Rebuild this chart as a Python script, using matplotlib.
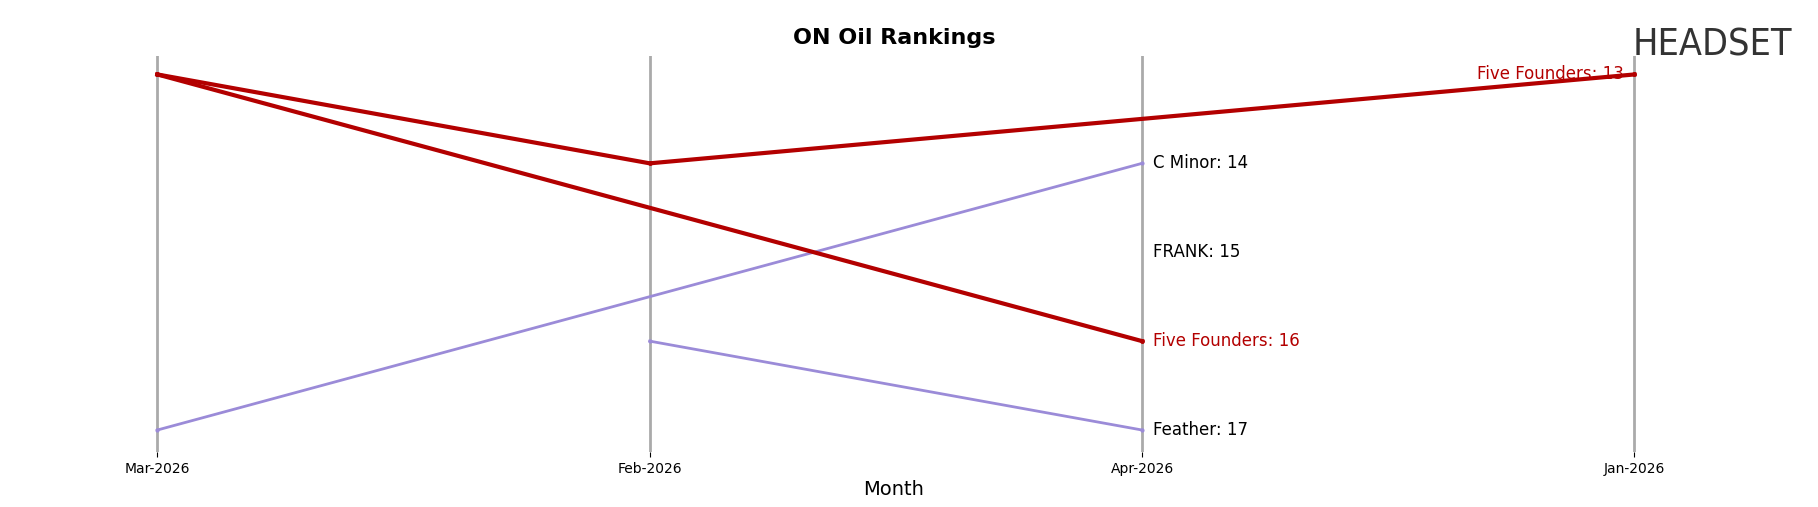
import matplotlib.pyplot as plt

months = ['Mar-2026', 'Feb-2026', 'Apr-2026', 'Jan-2026']

# brand lines: (month indices, ranks)
ff_a_x, ff_a_y = [0, 1, 3], [13, 14, 13]
ff_b_x, ff_b_y = [0, 2], [13, 16]
cminor_x, cminor_y = [0, 2], [17, 14]
feather_x, feather_y = [1, 2], [16, 17]
frank_x, frank_y = [2], [15]

red = '#b30000'
purple = '#9b8bd8'

fig = plt.figure(figsize=(18.18, 5.07), dpi=100)
ax = fig.add_axes([0.05, 0.108, 0.93, 0.782])

for i in range(len(months)):
    ax.axvline(i, color='#aaaaaa', lw=2, zorder=0)

ax.plot(cminor_x, cminor_y, color=purple, lw=2, marker='o', ms=2)
ax.plot(feather_x, feather_y, color=purple, lw=2, marker='o', ms=2)
ax.plot(ff_a_x, ff_a_y, color=red, lw=3, marker='o', ms=2.5)
ax.plot(ff_b_x, ff_b_y, color=red, lw=3, marker='o', ms=2.5)

ax.text(2.022, 14, 'C Minor: 14', va='center', fontsize=12)
ax.text(2.022, 15, 'FRANK: 15', va='center', fontsize=12)
ax.text(2.022, 16, 'Five Founders: 16', va='center', fontsize=12, color=red)
ax.text(2.022, 17, 'Feather: 17', va='center', fontsize=12)
ax.text(2.978, 13, 'Five Founders: 13', va='center', ha='right', fontsize=12, color=red)

ax.set_xlim(-0.135, 3.299)
ax.set_ylim(17.25, 12.79)
ax.set_xticks(range(len(months)))
ax.set_xticklabels(months, fontsize=10)
ax.set_yticks([])
ax.set_xlabel('Month', fontsize=14, labelpad=2)
ax.xaxis.set_label_coords(0.475, -0.07)
for s in ax.spines.values():
    s.set_visible(False)

fig.text(0.492, 0.913, 'ON Oil Rankings', ha='center', fontsize=16, fontweight='bold')
fig.text(0.898, 0.89, 'HEADSET', fontsize=27, color='#333333', fontstretch='condensed')

fig.savefig('out.png', dpi=100)
